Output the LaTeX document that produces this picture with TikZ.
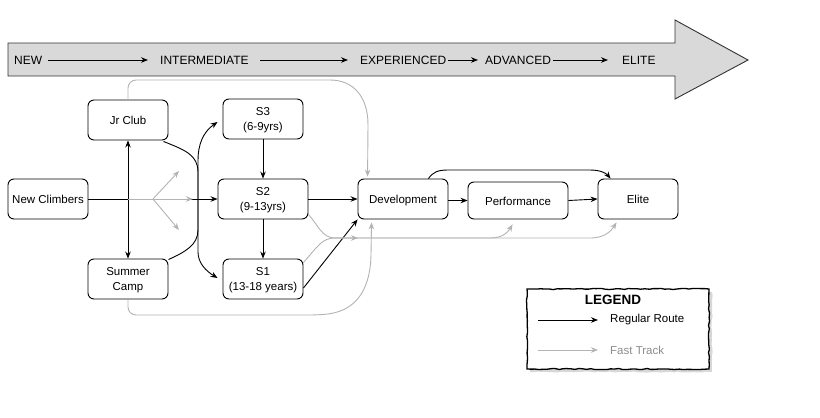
\documentclass[tikz,border=0pt]{standalone}
\usepackage{fontspec}
\setmainfont{Liberation Sans}
\usetikzlibrary{arrows.meta,decorations.pathmorphing,calc}
\definecolor{fastc}{HTML}{B3B3B3}
\definecolor{fasttext}{HTML}{8C8C8C}
\definecolor{bandfill}{HTML}{D9D9D9}
\definecolor{bandline}{HTML}{333333}
\begin{document}
\begin{tikzpicture}[x=1pt,y=-1pt,
  box/.style={draw=black, line width=0.9pt, rounded corners=6pt, align=center,
    font=\fontsize{11.5}{14.5}\selectfont, inner sep=0pt, minimum width=80pt, minimum height=40pt},
  oneline/.style={text height=9pt, text depth=0pt},
  twoline/.style={text depth=-2.5pt},
  bandtext/.style={font=\fontsize{12}{14}\selectfont, inner sep=0pt, anchor=west},
  reg/.style={draw=black, line width=0.9pt, -{Stealth[length=7pt,width=5.5pt]}},
  regline/.style={draw=black, line width=0.9pt},
  fast/.style={draw=fastc, line width=0.9pt, -{Stealth[length=7pt,width=5.5pt]}},
  fastline/.style={draw=fastc, line width=0.9pt},
  legtext/.style={font=\fontsize{11.5}{14}\selectfont, inner sep=0pt, anchor=west}
]
\useasboundingbox (0,0) rectangle (820,418);

% top band arrow
\filldraw[fill=bandfill, draw=bandline, line width=0.9pt]
  (8,43) -- (675,43) -- (675,20) -- (748,60) -- (675,99) -- (675,76) -- (8,76) -- cycle;
\node[bandtext] (tnew) at (14,60) {NEW};
\node[bandtext] (tint) at (160,60) {INTERMEDIATE};
\node[bandtext] (texp) at (360,60) {EXPERIENCED};
\node[bandtext] (tadv) at (485,60) {ADVANCED};
\node[bandtext] (telite) at (622,60) {ELITE};
\draw[reg] ($(tnew.east)+(6,0)$) -- ($(tint.west)+(-12,0)$);
\draw[reg] ($(tint.east)+(11,0)$) -- ($(texp.west)+(-12,0)$);
\draw[reg] ($(texp.east)+(2,0)$) -- ($(tadv.west)+(-7,0)$);
\draw[reg] ($(tadv.east)+(2,0)$) -- ($(telite.west)+(-14,0)$);

% nodes
\node[box, oneline] (nc) at (48,199) {New Climbers};
\node[box, oneline] (jr) at (128,120) {Jr Club};
\node[box, twoline] (sc) at (128,279) {Summer\\Camp};
\node[box, twoline] (s3) at (263,119) {S3\\(6-9yrs)};
\node[box, twoline, minimum width=90pt] (s2) at (263,199) {S2\\(9-13yrs)};
\node[box, twoline] (s1) at (263,279) {S1\\(13-18 years)};
\node[box, oneline, minimum width=90pt] (dev) at (403,199) {Development};
\node[box, oneline, minimum width=100pt, minimum height=37pt] (perf) at (518,200.5) {Performance};
\node[box, oneline] (elite) at (638,199) {Elite};

% coordinates
\coordinate (split) at (128,199);
\coordinate (fork) at (153,199);
\coordinate (fu) at (179,171);
\coordinate (fm) at (193,199);
\coordinate (fd) at (179,230);
\coordinate (gj) at (335,238);
\coordinate (gjend) at (358,238);

% black regular routes
\draw[reg] (nc.east) -- (s2.west);
\draw[reg] (split) -- (jr.south);
\draw[reg] (split) -- (sc.north);
\draw[reg] ($(jr.south east)+(-5,1)$) .. controls (185,150) and (198,155) .. (198,172)
   -- (198,252) .. controls (198,263) and (206,271) .. ($(s1.west)+(-5,-1)$);
\draw[reg] ($(sc.north east)+(0,1)$) .. controls (185,252) and (198,245) .. (198,230)
   -- (198,160) .. controls (198,145) and (203,132) .. ($(s3.west)+(-5,3)$);
\draw[reg] (s3.south) -- (s2.north);
\draw[reg] (s2.south) -- (s1.north);
\draw[reg] (s2.east) -- (dev.west);
\draw[reg] ($(s1.east)+(0,9)$) -- ($(dev.south west)+(0,0)$);
\draw[reg] (dev.east |- perf.west) -- (perf.west);
\draw[reg] (perf.east) -- (elite.west);
\draw[reg] ($(dev.north east)+(-20,0)$) .. controls (433,172) and (438,170) .. (448,170)
   -- (590,170) .. controls (600,170) and (606,173) .. ($(elite.north west)+(13,0)$);

% grey fast track
\draw[fastline] (split) -- (fork);
\draw[fast] (fork) -- (fu);
\draw[fast] (fork) -- (fm);
\draw[fast] (fork) -- (fd);
\draw[fast, rounded corners=8pt] (jr.north) -- (128,80) -- (322,80)
   [sharp corners] .. controls (352,80) and (368,95) .. (368,125) -- ($(dev.north west)+(10,-2)$);
\draw[fast, rounded corners=8pt] (sc.south) -- (128,315) -- (317,315)
   [sharp corners] .. controls (352,312) and (370,295) .. (371,255) -- ($(dev.south west)+(14,3)$);
\draw[fast] ($(s2.south east)+(0,-5)$) .. controls (318,225) and (322,238) .. (gj) -- (gjend);
\draw[fast] (gj) -- (490,238) .. controls (503,238) and (508,232) .. ($(perf.south west)+(45,5)$);
\draw[fast] ($(s1.north east)+(0,4)$) .. controls (318,246) and (322,238) .. (gj)
   -- (590,238) .. controls (605,238) and (611,231) .. ($(elite.south west)+(19,3)$);

% legend
\fill[gray!45, opacity=0.7, decorate, decoration={random steps, segment length=4pt, amplitude=0.6pt}]
  (530,292) rectangle (712,372);
\filldraw[fill=white, draw=black, line width=1.3pt, decorate, decoration={random steps, segment length=4pt, amplitude=0.6pt}]
  (527,289) rectangle (709,369);
\node[font=\bfseries\fontsize{13.5}{16}\selectfont, inner sep=0pt] (legtitle) at (613,300) {LEGEND};
\node[legtext] (lreg) at (610,320) {Regular Route};
\node[legtext, text=fasttext] (lfast) at (610,350) {Fast Track};
\draw[reg] ($(lreg.west)+(-72,0)$) -- ($(lreg.west)+(-12,0)$);
\draw[fast] ($(lfast.west)+(-72,0)$) -- ($(lfast.west)+(-12,0)$);
\end{tikzpicture}
\end{document}
